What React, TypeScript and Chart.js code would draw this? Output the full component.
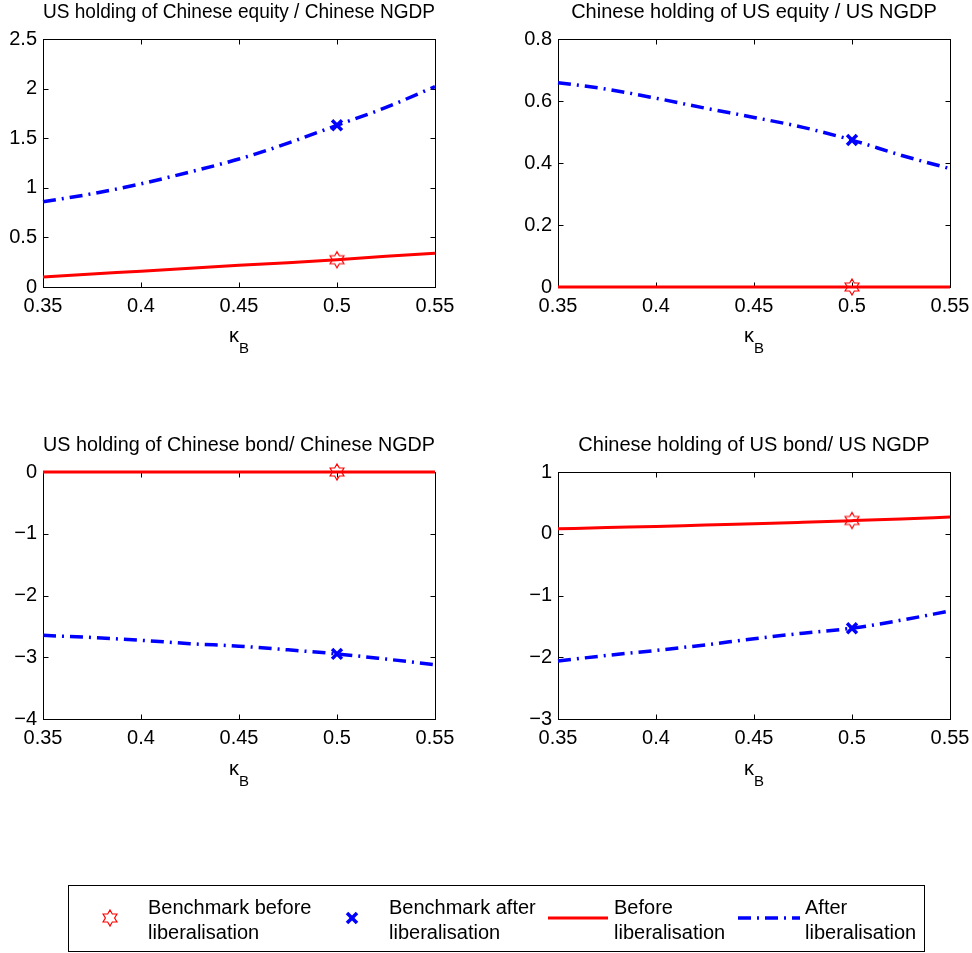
import React, { useEffect, useRef } from 'react';
import { Chart, registerables } from 'chart.js';

Chart.register(...registerables);

const FONT = '"Liberation Sans", Arial, Helvetica, sans-serif';

// ---- data ----
const kappa = [0.35, 0.375, 0.4, 0.425, 0.45, 0.475, 0.5, 0.525, 0.55];
const kappaTicks = [0.35, 0.4, 0.45, 0.5, 0.55];
const benchmarkKappa = 0.5;

const usEquityBefore = [0.10, 0.13, 0.16, 0.19, 0.22, 0.245, 0.275, 0.31, 0.34];
const usEquityAfter = [0.86, 0.94, 1.04, 1.16, 1.29, 1.45, 1.63, 1.81, 2.02];
const cnEquityBefore = [0, 0, 0, 0, 0, 0, 0, 0, 0];
const cnEquityAfter = [0.659, 0.638, 0.609, 0.577, 0.547, 0.515, 0.474, 0.425, 0.382];
const usBondBefore = [0, 0, 0, 0, 0, 0, 0, 0, 0];
const usBondAfter = [-2.645, -2.68, -2.725, -2.78, -2.82, -2.88, -2.946, -3.03, -3.12];
const cnBondBefore = [0.08, 0.10, 0.118, 0.14, 0.16, 0.185, 0.212, 0.24, 0.27];
const cnBondAfter = [-2.06, -1.97, -1.89, -1.80, -1.70, -1.61, -1.53, -1.40, -1.25];

const benchmarkBefore = [0.275, 0, 0, 0.215];
const benchmarkAfter = [1.63, 0.474, -2.946, -1.53];

const yTicks1 = [0, 0.5, 1, 1.5, 2, 2.5];
const yTicks2 = [0, 0.2, 0.4, 0.6, 0.8];
const yTicks3 = [-4, -3, -2, -1, 0];
const yTicks4 = [-3, -2, -1, 0, 1];

const titles = [
  'US holding of Chinese equity / Chinese NGDP',
  'Chinese holding of US equity / US NGDP',
  'US holding of Chinese bond/ Chinese NGDP',
  'Chinese holding of US bond/ US NGDP',
];
const legendLabels = [
  ['Benchmark before', 'liberalisation'],
  ['Benchmark after', 'liberalisation'],
  ['Before', 'liberalisation'],
  ['After', 'liberalisation'],
];

const RED = '#ff0000';
const BLUE = '#0000ff';
const DASH = [13, 6, 2, 6];

function fmt(v: number): string {
  const r = Math.round(v * 1000) / 1000;
  return r < 0 ? '\u2212' + String(-r) : String(r);
}

function hexagramPoints(cx: number, cy: number, R: number): [number, number][] {
  const r = R / Math.sqrt(3);
  const pts: [number, number][] = [];
  for (let i = 0; i < 12; i++) {
    const ang = -Math.PI / 2 + (i * Math.PI) / 6;
    const rad = i % 2 === 0 ? R : r;
    pts.push([cx + rad * Math.cos(ang), cy + rad * Math.sin(ang)]);
  }
  return pts;
}

let hexCanvas: HTMLCanvasElement | null = null;
function getHexagram(): HTMLCanvasElement {
  if (hexCanvas) return hexCanvas;
  const size = 20;
  const c = document.createElement('canvas');
  c.width = size;
  c.height = size;
  const ctx = c.getContext('2d')!;
  const pts = hexagramPoints(size / 2, size / 2, 8);
  ctx.beginPath();
  pts.forEach(([x, y], i) => (i === 0 ? ctx.moveTo(x, y) : ctx.lineTo(x, y)));
  ctx.closePath();
  ctx.strokeStyle = RED;
  ctx.lineWidth = 1.2;
  ctx.stroke();
  hexCanvas = c;
  return c;
}

const framePlugin = {
  id: 'frame',
  beforeDatasetsDraw(chart: any) {
    const { ctx, chartArea: a } = chart;
    const xs = chart.scales.x;
    const ys = chart.scales.y;
    const L = Math.floor(a.left) + 0.5;
    const R = Math.floor(a.right) + 0.5;
    const T = Math.floor(a.top) + 0.5;
    const B = Math.floor(a.bottom) + 0.5;
    ctx.save();
    ctx.strokeStyle = '#000';
    ctx.lineWidth = 1;
    ctx.strokeRect(L, T, R - L, B - T);
    const tl = 5;
    ctx.beginPath();
    xs.ticks.forEach((t: any) => {
      const px = Math.round(xs.getPixelForValue(t.value)) + 0.5;
      ctx.moveTo(px, B);
      ctx.lineTo(px, B - tl);
      ctx.moveTo(px, T);
      ctx.lineTo(px, T + tl);
    });
    ys.ticks.forEach((t: any) => {
      const py = Math.round(ys.getPixelForValue(t.value)) + 0.5;
      ctx.moveTo(L, py);
      ctx.lineTo(L + tl, py);
      ctx.moveTo(R, py);
      ctx.lineTo(R - tl, py);
    });
    ctx.stroke();
    ctx.restore();
  },
};

type PanelProps = {
  title: string;
  before: number[];
  after: number[];
  benchBefore: number;
  benchAfter: number;
  yTicks: number[];
  left: number;
  top: number;
  width: number;
  height: number;
  yAxisWidth: number;
  padRight: number;
  xAxisHeight: number;
};

function Panel(p: PanelProps) {
  const ref = useRef<HTMLCanvasElement>(null);
  useEffect(() => {
    const tickFont = { family: FONT, size: 20, weight: 'normal' as const };
    const chart = new Chart(ref.current!, {
      type: 'line',
      data: {
        datasets: [
          {
            label: legendLabels[0].join(' '),
            data: [{ x: benchmarkKappa, y: p.benchBefore }],
            showLine: false,
            pointStyle: getHexagram() as any,
            pointRadius: 8,
            clip: false as any,
          },
          {
            label: legendLabels[1].join(' '),
            data: [{ x: benchmarkKappa, y: p.benchAfter }],
            showLine: false,
            pointStyle: 'crossRot',
            pointRadius: 7,
            borderColor: BLUE,
            backgroundColor: BLUE,
            pointBorderWidth: 3.5,
            clip: false as any,
          },
          {
            label: legendLabels[2].join(' '),
            data: kappa.map((k, i) => ({ x: k, y: p.before[i] })),
            borderColor: RED,
            borderWidth: 3,
            pointRadius: 0,
            cubicInterpolationMode: 'monotone',
            clip: false as any,
          },
          {
            label: legendLabels[3].join(' '),
            data: kappa.map((k, i) => ({ x: k, y: p.after[i] })),
            borderColor: BLUE,
            borderWidth: 3.5,
            borderDash: DASH,
            borderCapStyle: 'butt',
            pointRadius: 0,
            cubicInterpolationMode: 'monotone',
            clip: false as any,
          },
        ],
      },
      options: {
        responsive: false,
        animation: false,
        events: [],
        layout: { padding: { left: 0, right: p.padRight, top: 0, bottom: 0 } },
        plugins: {
          legend: { display: false },
          tooltip: { enabled: false },
          title: {
            display: true,
            text: p.title,
            color: '#000',
            fullSize: false,
            font: { family: FONT, size: 20, weight: 'normal', lineHeight: 1.2 },
            padding: { top: 0, bottom: 15 },
          },
        },
        scales: {
          x: {
            type: 'linear',
            min: kappaTicks[0],
            max: kappaTicks[kappaTicks.length - 1],
            afterBuildTicks: (s: any) => {
              s.ticks = kappaTicks.map((v) => ({ value: v }));
            },
            afterFit: (s: any) => {
              s.height = p.xAxisHeight;
              s.paddingLeft = 0;
              s.paddingRight = 0;
            },
            grid: { display: false, drawTicks: false },
            border: { display: false },
            ticks: {
              color: '#000',
              font: tickFont,
              padding: 7,
              maxRotation: 0,
              autoSkip: false,
              callback: (v: any) => fmt(Number(v)),
            },
          },
          y: {
            type: 'linear',
            min: p.yTicks[0],
            max: p.yTicks[p.yTicks.length - 1],
            afterBuildTicks: (s: any) => {
              s.ticks = p.yTicks.map((v) => ({ value: v }));
            },
            afterFit: (s: any) => {
              s.width = p.yAxisWidth;
              s.paddingTop = 0;
              s.paddingBottom = 0;
            },
            grid: { display: false, drawTicks: false },
            border: { display: false },
            ticks: {
              color: '#000',
              font: tickFont,
              padding: 6,
              autoSkip: false,
              callback: (v: any) => fmt(Number(v)),
            },
          },
        },
      } as any,
      plugins: [framePlugin],
    });
    return () => chart.destroy();
  }, []);
  return (
    <canvas
      ref={ref}
      width={p.width}
      height={p.height}
      style={{ position: 'absolute', left: p.left, top: p.top, width: p.width, height: p.height }}
    />
  );
}

function KappaLabel({ left, width, top }: { left: number; width: number; top: number }) {
  return (
    <div
      style={{
        position: 'absolute',
        left,
        width,
        top,
        textAlign: 'center',
        fontFamily: FONT,
        fontSize: 20,
        lineHeight: '20px',
        color: '#000',
      }}
    >
      κ<span style={{ fontSize: 15, position: 'relative', top: 11 }}>B</span>
    </div>
  );
}

function LegendText({ left, lines }: { left: number; lines: string[] }) {
  return (
    <div
      style={{
        position: 'absolute',
        left,
        top: 895,
        fontFamily: FONT,
        fontSize: 20,
        lineHeight: '25px',
        color: '#000',
        whiteSpace: 'nowrap',
      }}
    >
      {lines.map((l, i) => (
        <div key={i}>{l}</div>
      ))}
    </div>
  );
}

export default function App() {
  const hex = hexagramPoints(110, 918, 8)
    .map(([x, y]) => `${x.toFixed(2)},${y.toFixed(2)}`)
    .join(' ');
  return (
    <div
      style={{
        position: 'absolute',
        left: 0,
        top: 0,
        width: 972,
        height: 953,
        background: '#fff',
        overflow: 'hidden',
      }}
    >
      <Panel title={titles[0]} before={usEquityBefore} after={usEquityAfter}
        benchBefore={benchmarkBefore[0]} benchAfter={benchmarkAfter[0]} yTicks={yTicks1}
        left={0} top={0} width={470} height={330} yAxisWidth={43} padRight={35} xAxisHeight={43} />
      <Panel title={titles[1]} before={cnEquityBefore} after={cnEquityAfter}
        benchBefore={benchmarkBefore[1]} benchAfter={benchmarkAfter[1]} yTicks={yTicks2}
        left={500} top={0} width={472} height={330} yAxisWidth={58} padRight={22} xAxisHeight={43} />
      <Panel title={titles[2]} before={usBondBefore} after={usBondAfter}
        benchBefore={benchmarkBefore[2]} benchAfter={benchmarkAfter[2]} yTicks={yTicks3}
        left={0} top={433} width={470} height={329} yAxisWidth={43} padRight={35} xAxisHeight={43} />
      <Panel title={titles[3]} before={cnBondBefore} after={cnBondAfter}
        benchBefore={benchmarkBefore[3]} benchAfter={benchmarkAfter[3]} yTicks={yTicks4}
        left={500} top={433} width={472} height={329} yAxisWidth={58} padRight={22} xAxisHeight={43} />

      <KappaLabel left={43} width={392} top={325} />
      <KappaLabel left={558} width={392} top={325} />
      <KappaLabel left={43} width={392} top={758} />
      <KappaLabel left={558} width={392} top={758} />

      <svg
        width={972}
        height={953}
        style={{ position: 'absolute', left: 0, top: 0, pointerEvents: 'none' }}
      >
        <rect x={68.5} y={885.5} width={856} height={66} fill="none" stroke="#000" strokeWidth={1} />
        <polygon points={hex} fill="none" stroke={RED} strokeWidth={1.2} />
        <g stroke={BLUE} strokeWidth={3.5}>
          <line x1={347} y1={913} x2={357} y2={923} />
          <line x1={347} y1={923} x2={357} y2={913} />
        </g>
        <line x1={548} y1={918} x2={608} y2={918} stroke={RED} strokeWidth={3} />
        <line x1={738} y1={918} x2={800} y2={918} stroke={BLUE} strokeWidth={3.5}
          strokeDasharray={DASH.join(' ')} />
      </svg>

      <LegendText left={148} lines={legendLabels[0]} />
      <LegendText left={389} lines={legendLabels[1]} />
      <LegendText left={614} lines={legendLabels[2]} />
      <LegendText left={805} lines={legendLabels[3]} />
    </div>
  );
}
